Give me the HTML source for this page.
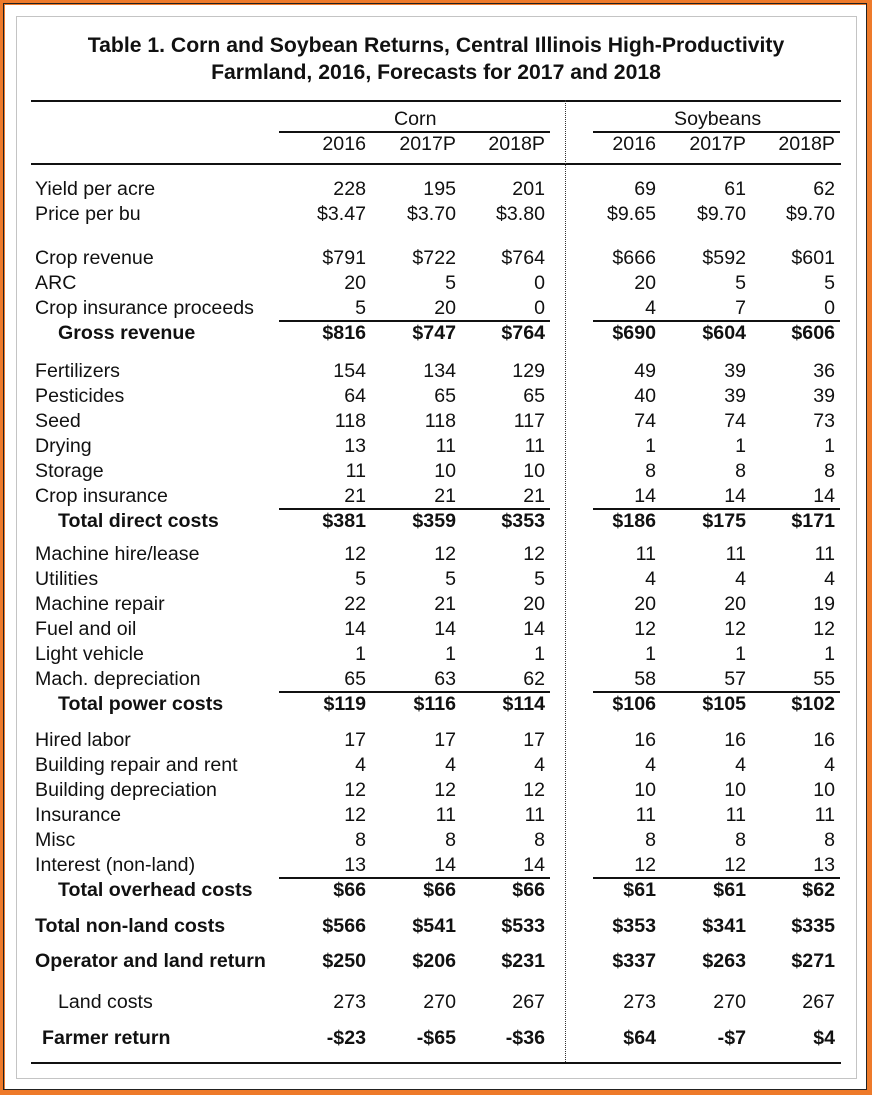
<!DOCTYPE html>
<html><head><meta charset="utf-8"><style>
html,body{margin:0;padding:0;background:#fff}
body{width:872px;height:1095px;position:relative;overflow:hidden;font-family:"Liberation Sans",Arial,sans-serif;color:#111}
.frame{position:absolute;left:0;top:0;width:862px;height:1085px;border:5px solid #ee7a2a}
.inner{position:absolute;left:3px;top:3px;width:864px;height:1087px;border:1px solid #222;box-sizing:border-box}
.box{position:absolute;left:16px;top:16px;width:841px;height:1063px;border:1px solid #c4c4c4;box-sizing:border-box}
.t{position:absolute;left:0;width:872px;text-align:center;font-weight:bold;font-size:21.2px}
.h{position:absolute;height:1.5px;background:#111}
.r{position:absolute;left:0;width:872px;height:22px;line-height:22px;font-size:19.6px}
.r span{position:absolute;top:0;white-space:nowrap}
.l{left:35px}.i{left:58px}
.c1{right:506px}.c2{right:416px}.c3{right:327px}.c4{right:216px}.c5{right:126px}.c6{right:37px}
.b{font-weight:bold}
.dot{position:absolute;left:565px;top:100px;height:962px;border-left:1px dotted #333}
</style></head><body>
<div class="frame"></div><div class="inner"></div><div class="box"></div>
<div class="t" style="top:34px">Table 1. Corn and Soybean Returns, Central Illinois High-Productivity</div>
<div class="t" style="top:61px">Farmland, 2016, Forecasts for 2017 and 2018</div>
<div class="h" style="left:31px;width:810px;top:100px"></div>
<div class="h" style="left:279px;width:271px;top:131px"></div>
<div class="h" style="left:593px;width:247px;top:131px"></div>
<div class="h" style="left:31px;width:810px;top:163px"></div>
<div class="h" style="left:31px;width:810px;top:1062px"></div>
<div class="dot"></div>
<div class="h" style="left:279px;width:271px;top:320px"></div><div class="h" style="left:593px;width:247px;top:320px"></div>
<div class="h" style="left:279px;width:271px;top:508px"></div><div class="h" style="left:593px;width:247px;top:508px"></div>
<div class="h" style="left:279px;width:271px;top:691px"></div><div class="h" style="left:593px;width:247px;top:691px"></div>
<div class="h" style="left:279px;width:271px;top:877px"></div><div class="h" style="left:593px;width:247px;top:877px"></div>

<div class="r" style="top:108px"><span style="left:394px">Corn</span><span style="left:674px">Soybeans</span></div>
<div class="r" style="top:133px"><span class="c1">2016</span><span class="c2">2017P</span><span class="c3">2018P</span><span class="c4">2016</span><span class="c5">2017P</span><span class="c6">2018P</span></div>

<div class="r" style="top:178px"><span class="l">Yield per acre</span><span class="c1">228</span><span class="c2">195</span><span class="c3">201</span><span class="c4">69</span><span class="c5">61</span><span class="c6">62</span></div>
<div class="r" style="top:203px"><span class="l">Price per bu</span><span class="c1">$3.47</span><span class="c2">$3.70</span><span class="c3">$3.80</span><span class="c4">$9.65</span><span class="c5">$9.70</span><span class="c6">$9.70</span></div>

<div class="r" style="top:247px"><span class="l">Crop revenue</span><span class="c1">$791</span><span class="c2">$722</span><span class="c3">$764</span><span class="c4">$666</span><span class="c5">$592</span><span class="c6">$601</span></div>
<div class="r" style="top:272px"><span class="l">ARC</span><span class="c1">20</span><span class="c2">5</span><span class="c3">0</span><span class="c4">20</span><span class="c5">5</span><span class="c6">5</span></div>
<div class="r" style="top:297px"><span class="l">Crop insurance proceeds</span><span class="c1">5</span><span class="c2">20</span><span class="c3">0</span><span class="c4">4</span><span class="c5">7</span><span class="c6">0</span></div>
<div class="r b" style="top:322px"><span class="i">Gross revenue</span><span class="c1">$816</span><span class="c2">$747</span><span class="c3">$764</span><span class="c4">$690</span><span class="c5">$604</span><span class="c6">$606</span></div>

<div class="r" style="top:360px"><span class="l">Fertilizers</span><span class="c1">154</span><span class="c2">134</span><span class="c3">129</span><span class="c4">49</span><span class="c5">39</span><span class="c6">36</span></div>
<div class="r" style="top:385px"><span class="l">Pesticides</span><span class="c1">64</span><span class="c2">65</span><span class="c3">65</span><span class="c4">40</span><span class="c5">39</span><span class="c6">39</span></div>
<div class="r" style="top:410px"><span class="l">Seed</span><span class="c1">118</span><span class="c2">118</span><span class="c3">117</span><span class="c4">74</span><span class="c5">74</span><span class="c6">73</span></div>
<div class="r" style="top:435px"><span class="l">Drying</span><span class="c1">13</span><span class="c2">11</span><span class="c3">11</span><span class="c4">1</span><span class="c5">1</span><span class="c6">1</span></div>
<div class="r" style="top:460px"><span class="l">Storage</span><span class="c1">11</span><span class="c2">10</span><span class="c3">10</span><span class="c4">8</span><span class="c5">8</span><span class="c6">8</span></div>
<div class="r" style="top:485px"><span class="l">Crop insurance</span><span class="c1">21</span><span class="c2">21</span><span class="c3">21</span><span class="c4">14</span><span class="c5">14</span><span class="c6">14</span></div>
<div class="r b" style="top:510px"><span class="i">Total direct costs</span><span class="c1">$381</span><span class="c2">$359</span><span class="c3">$353</span><span class="c4">$186</span><span class="c5">$175</span><span class="c6">$171</span></div>

<div class="r" style="top:543px"><span class="l">Machine hire/lease</span><span class="c1">12</span><span class="c2">12</span><span class="c3">12</span><span class="c4">11</span><span class="c5">11</span><span class="c6">11</span></div>
<div class="r" style="top:568px"><span class="l">Utilities</span><span class="c1">5</span><span class="c2">5</span><span class="c3">5</span><span class="c4">4</span><span class="c5">4</span><span class="c6">4</span></div>
<div class="r" style="top:593px"><span class="l">Machine repair</span><span class="c1">22</span><span class="c2">21</span><span class="c3">20</span><span class="c4">20</span><span class="c5">20</span><span class="c6">19</span></div>
<div class="r" style="top:618px"><span class="l">Fuel and oil</span><span class="c1">14</span><span class="c2">14</span><span class="c3">14</span><span class="c4">12</span><span class="c5">12</span><span class="c6">12</span></div>
<div class="r" style="top:643px"><span class="l">Light vehicle</span><span class="c1">1</span><span class="c2">1</span><span class="c3">1</span><span class="c4">1</span><span class="c5">1</span><span class="c6">1</span></div>
<div class="r" style="top:668px"><span class="l">Mach. depreciation</span><span class="c1">65</span><span class="c2">63</span><span class="c3">62</span><span class="c4">58</span><span class="c5">57</span><span class="c6">55</span></div>
<div class="r b" style="top:693px"><span class="i">Total power costs</span><span class="c1">$119</span><span class="c2">$116</span><span class="c3">$114</span><span class="c4">$106</span><span class="c5">$105</span><span class="c6">$102</span></div>

<div class="r" style="top:729px"><span class="l">Hired labor</span><span class="c1">17</span><span class="c2">17</span><span class="c3">17</span><span class="c4">16</span><span class="c5">16</span><span class="c6">16</span></div>
<div class="r" style="top:754px"><span class="l">Building repair and rent</span><span class="c1">4</span><span class="c2">4</span><span class="c3">4</span><span class="c4">4</span><span class="c5">4</span><span class="c6">4</span></div>
<div class="r" style="top:779px"><span class="l">Building depreciation</span><span class="c1">12</span><span class="c2">12</span><span class="c3">12</span><span class="c4">10</span><span class="c5">10</span><span class="c6">10</span></div>
<div class="r" style="top:804px"><span class="l">Insurance</span><span class="c1">12</span><span class="c2">11</span><span class="c3">11</span><span class="c4">11</span><span class="c5">11</span><span class="c6">11</span></div>
<div class="r" style="top:829px"><span class="l">Misc</span><span class="c1">8</span><span class="c2">8</span><span class="c3">8</span><span class="c4">8</span><span class="c5">8</span><span class="c6">8</span></div>
<div class="r" style="top:854px"><span class="l">Interest (non-land)</span><span class="c1">13</span><span class="c2">14</span><span class="c3">14</span><span class="c4">12</span><span class="c5">12</span><span class="c6">13</span></div>
<div class="r b" style="top:879px"><span class="i">Total overhead costs</span><span class="c1">$66</span><span class="c2">$66</span><span class="c3">$66</span><span class="c4">$61</span><span class="c5">$61</span><span class="c6">$62</span></div>

<div class="r b" style="top:915px"><span class="l">Total non-land costs</span><span class="c1">$566</span><span class="c2">$541</span><span class="c3">$533</span><span class="c4">$353</span><span class="c5">$341</span><span class="c6">$335</span></div>
<div class="r b" style="top:950px"><span class="l">Operator and land return</span><span class="c1">$250</span><span class="c2">$206</span><span class="c3">$231</span><span class="c4">$337</span><span class="c5">$263</span><span class="c6">$271</span></div>
<div class="r" style="top:991px"><span class="i">Land costs</span><span class="c1">273</span><span class="c2">270</span><span class="c3">267</span><span class="c4">273</span><span class="c5">270</span><span class="c6">267</span></div>
<div class="r b" style="top:1027px"><span style="left:42px">Farmer return</span><span class="c1">-$23</span><span class="c2">-$65</span><span class="c3">-$36</span><span class="c4">$64</span><span class="c5">-$7</span><span class="c6">$4</span></div>
</body></html>
